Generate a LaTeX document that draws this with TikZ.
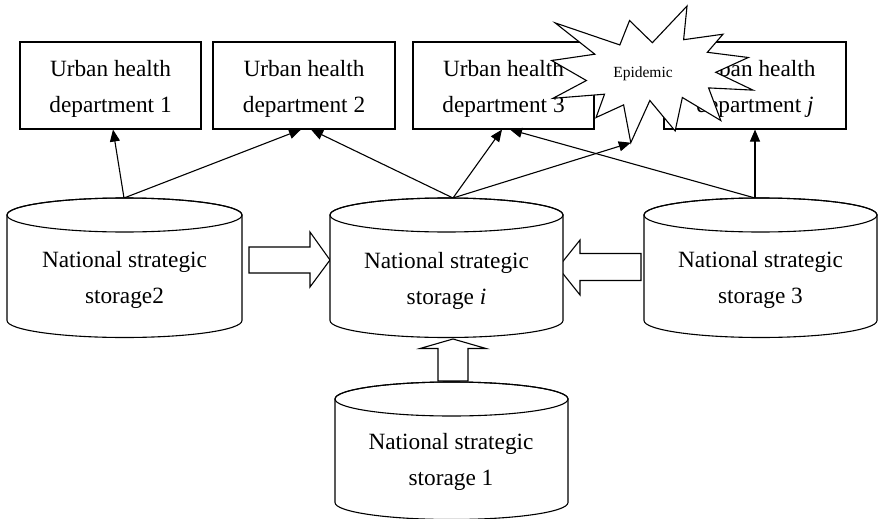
\documentclass[tikz,border=0pt]{standalone}
\usepackage{fontspec}
\setmainfont{Liberation Serif}
\usetikzlibrary{arrows.meta}
\newcommand\drawstorage[4]{%
  \draw[fill=white] (#1-#4,#2) -- (#1-#4,#3)
    arc[start angle=180,end angle=0,x radius=#4,y radius=17]
    -- (#1+#4,#2)
    arc[start angle=0,end angle=-180,x radius=#4,y radius=17] -- cycle;
  \draw (#1,#2) ellipse[x radius=#4,y radius=17];}
\begin{document}
\begin{tikzpicture}[x=1pt,y=-1pt,line width=1.1pt,
  box/.style={draw,fill=white,minimum width=181pt,minimum height=87pt,inner sep=0pt},
  lbl/.style={align=center,font=\fontsize{23.3}{36}\selectfont,inner sep=0pt},
  conn/.style={-{Triangle[length=12pt,width=10pt]},line width=1.1pt},
  blockarrow/.style={draw,fill=white,line width=1.1pt,line join=miter}]
\useasboundingbox (0,0) rectangle (878,519);
% urban health departments
\node[box] (u1) at (110.5,85.5) {};
\node[box,minimum width=182pt] (u2) at (304,85.5) {};
\node[box] (u3) at (503.5,85.5) {};
\node[box,minimum width=182pt] (u4) at (755,85.5) {};
\node[lbl] (u1t) at ([yshift=-3pt]u1.center) {Urban health\\department 1};
\node[lbl] (u2t) at ([yshift=-3pt]u2.center) {Urban health\\department 2};
\node[lbl] (u3t) at ([yshift=-3pt]u3.center) {Urban health\\department 3};
\node[lbl] (u4t) at ([yshift=-3pt]u4.center) {Urban health\\department \textit{j}};
% epidemic starburst
\begin{scope}[shift={(551.7,6)},xscale=0.9319,yscale=0.6329]
\draw[fill=white] (108,58) -- (145.22,0) -- (141.55,53.25) -- (183.80,44.57)
  -- (167.02,73.15) -- (210.97,81.37) -- (176.07,104.75) -- (216,132.90)
  -- (168.37,129.42) -- (181.45,180.95) -- (140.20,144.57) -- (132.47,197.37)
  -- (105.32,149.35) -- (84.85,216) -- (77.15,156.27) -- (47.62,176.17)
  -- (56.67,139.37) -- (1.35,145.87) -- (37.22,117.75) -- (0,86.15)
  -- (46.27,76.17) -- (3.70,26.67) -- (73.12,61.55) -- (83.52,22.97) -- cycle;
\coordinate (spike) at (84.85,216);
\end{scope}
\node[font=\fontsize{15.5}{18}\selectfont,inner sep=0pt] (epi) at (643,73.5) {Epidemic};
% cylinder top points
\coordinate (s2top) at (124,198);
\coordinate (sitop) at (453,198);
\coordinate (s3top) at (755,198);
% thin arrows
\draw[conn] (s2top) -- ([xshift=2.5pt]u1.south);
\draw[conn] (s2top) -- ([xshift=-3pt]u2.south);
\draw[conn] (sitop) -- ([xshift=7pt]u2.south);
\draw[conn] (sitop) -- ([xshift=-1.5pt]u3.south);
\draw[conn] (sitop) -- (spike);
\draw[conn] (s3top) -- ([xshift=6.5pt]u3.south);
\draw[conn] (s3top) -- (u4.south);
% block arrows
\draw[blockarrow] (249,247) -- (310,247) -- (310,232) -- (330,260) -- (310,287)
  -- (310,273) -- (249,273) -- cycle;
\draw[blockarrow] (641,253.5) -- (580,253.5) -- (580,240) -- (558,267.5)
  -- (580,295) -- (580,280.5) -- (641,280.5) -- cycle;
\draw[blockarrow] (438,381) -- (438,348.5) -- (420,348.5) -- (453,339)
  -- (486,348.5) -- (468,348.5) -- (468,381) -- cycle;
% storages
\drawstorage{124.5}{215}{320.5}{117.5}
\drawstorage{446.5}{215}{320.5}{116.5}
\drawstorage{760.5}{215}{320.5}{116.5}
\drawstorage{451.5}{399}{502.5}{116.5}
\node[lbl] (s2) at (124.5,280) {National strategic\\storage2};
\node[lbl] (si) at (446.5,281) {National strategic\\storage \textit{i}};
\node[lbl] (s3) at (760.5,280) {National strategic\\storage 3};
\node[lbl] (s1) at (451,461.5) {National strategic\\storage 1};
\end{tikzpicture}
\end{document}
